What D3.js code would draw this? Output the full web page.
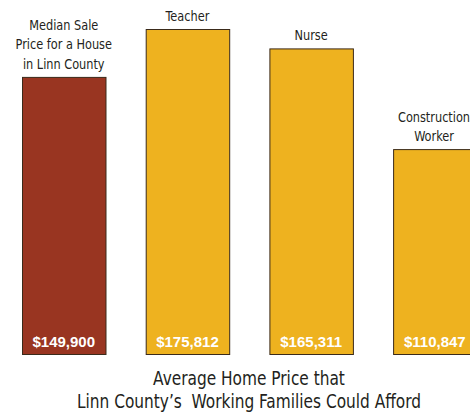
<!DOCTYPE html>
<html>
<head>
<meta charset="utf-8">
<script src="https://cdn.jsdelivr.net/npm/d3@7"></script>
<style>
  html, body { margin: 0; padding: 0; background: #fff; }
  svg { display: block; }
  .cat { font-family: "DejaVu Sans Condensed", "DejaVu Sans", sans-serif; fill: #231f20; }
</style>
</head>
<body>
<div id="chart"></div>
<script>
const categories = ["Median Sale|Price for a House|in Linn County", "Teacher", "Nurse", "Construction|Worker"];
const values = [149900, 175812, 165311, 110847];
const valueLabels = ["$149,900", "$175,812", "$165,311", "$110,847"];
const barColors = ["#993521", "#eeb21f", "#eeb21f", "#eeb21f"];
const titleLines = ["Average Home Price that", "Linn County\u2019s  Working Families Could Afford"];

const width = 470, height = 413;
const baseY = 354;
const squeeze = 0.9; // narrow the condensed face a bit more

const svg = d3.select("#chart").append("svg")
  .attr("width", width)
  .attr("height", height);

const x = d3.scaleBand()
  .domain(d3.range(categories.length))
  .range([22, 476.6])
  .paddingInner(0.325)
  .paddingOuter(0);

const y = d3.scaleLinear()
  .domain([0, 175812])
  .range([baseY, 29]);

svg.selectAll("rect.bar")
  .data(values)
  .enter()
  .append("rect")
  .attr("class", "bar")
  .attr("x", (d, i) => x(i) + 0.5)
  .attr("y", (d) => y(d) + 0.5)
  .attr("width", x.bandwidth())
  .attr("height", (d) => baseY - y(d))
  .attr("fill", (d, i) => barColors[i])
  .attr("stroke", "#3a2a1a")
  .attr("stroke-width", 1);

svg.selectAll("text.val")
  .data(values)
  .enter()
  .append("text")
  .attr("class", "val")
  .attr("x", (d, i) => x(i) + x.bandwidth() / 2)
  .attr("y", baseY - 7.5)
  .attr("text-anchor", "middle")
  .attr("font-family", "Liberation Sans, Arial, sans-serif")
  .attr("font-weight", "bold")
  .attr("font-size", "15px")
  .attr("fill", "#fff")
  .text((d, i) => valueLabels[i]);

categories.forEach((c, i) => {
  const lines = c.split("|");
  const cx = Math.min(x(i) + x.bandwidth() / 2, 434);
  const t = svg.append("text")
    .attr("class", "cat")
    .attr("text-anchor", "middle")
    .attr("font-size", "14px")
    .attr("transform", `translate(${cx},${y(values[i]) - 8}) scale(${squeeze},1)`);
  lines.forEach((ln, j) => {
    t.append("tspan")
      .attr("x", 0)
      .attr("y", -(lines.length - 1 - j) * 19.5)
      .text(ln);
  });
});

svg.selectAll("text.title")
  .data(titleLines)
  .enter()
  .append("text")
  .attr("class", "cat title")
  .attr("transform", (d, i) => `translate(249,${385 + i * 23}) scale(${squeeze},1)`)
  .attr("text-anchor", "middle")
  .attr("font-size", "19px")
  .style("white-space", "pre")
  .text((d) => d);
</script>
</body>
</html>
